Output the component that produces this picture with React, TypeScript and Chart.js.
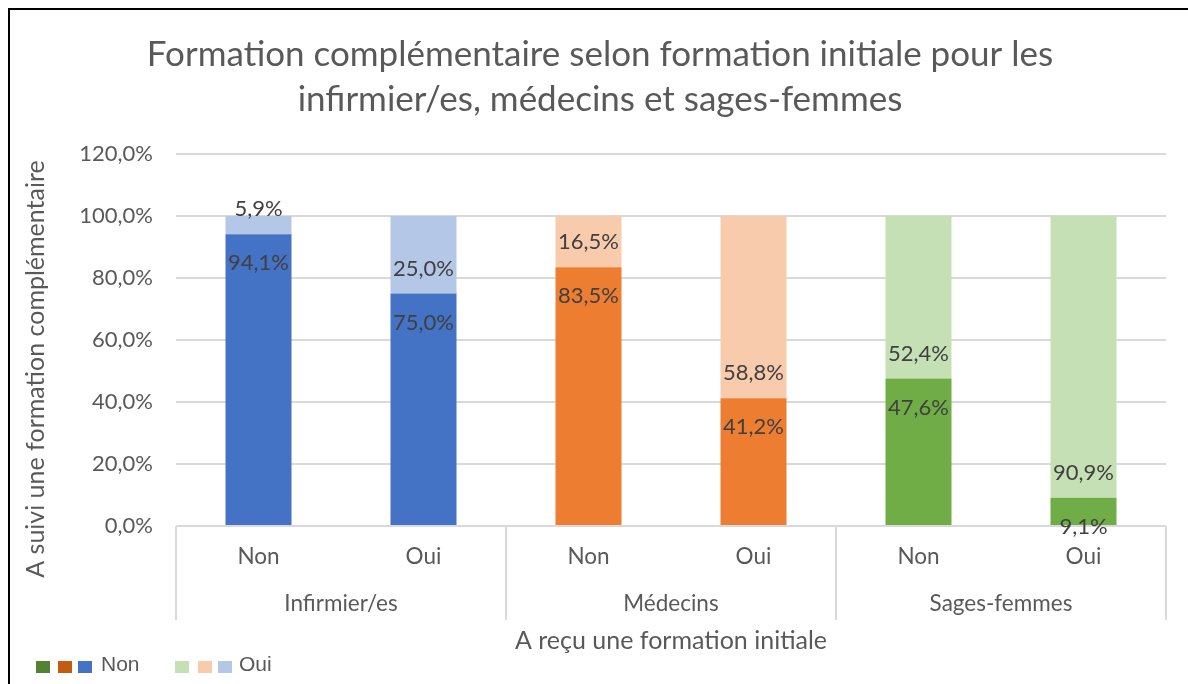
import { useEffect, useRef } from "react";
import { Chart, registerables } from "chart.js";

Chart.register(...registerables);

const categories = ["Non", "Oui", "Non", "Oui", "Non", "Oui"];
const groups = ["Infirmier/es", "Médecins", "Sages-femmes"];
const nonValues = [94.1, 75.0, 83.5, 41.2, 47.6, 9.1];
const ouiValues = [5.9, 25.0, 16.5, 58.8, 52.4, 90.9];
const nonColors = ["#4472C4", "#4472C4", "#ED7D31", "#ED7D31", "#70AD47", "#70AD47"];
const ouiColors = ["#B4C7E7", "#B4C7E7", "#F8CBAD", "#F8CBAD", "#C5E0B4", "#C5E0B4"];
const legendLabels = ["Non", "Oui"];
const legendNonColors = ["#548235", "#C55A11", "#4472C4"];
const legendOuiColors = ["#C5E0B4", "#F8CBAD", "#B4C7E7"];
const titleLines = [
  "Formation complémentaire selon formation initiale pour les",
  "infirmier/es, médecins et sages-femmes",
];
const yTitle = "A suivi une formation complémentaire";
const xTitle = "A reçu une formation initiale";
const yMin = 0;
const yMax = 120;
const yStep = 20;

const FONT = "Lato, 'Open Sans', sans-serif";
const TEXT = "#595959";
const LABEL = "#404040";

const fmt = (v: number) => v.toFixed(1).replace(".", ",") + "%";

const decorPlugin = {
  id: "decor",
  beforeDraw(chart: any) {
    const ctx = chart.ctx;
    ctx.save();
    ctx.fillStyle = "#ffffff";
    ctx.fillRect(0, 0, chart.width, chart.height);
    ctx.restore();
  },
  afterDraw(chart: any) {
    const ctx = chart.ctx;
    const area = chart.chartArea;
    const xs = chart.scales.x;
    ctx.save();
    // frame
    ctx.fillStyle = "#000000";
    ctx.fillRect(8, 8, chart.width - 8, 2);
    ctx.fillRect(8, 8, 2, chart.height - 8);

    // title
    ctx.fillStyle = TEXT;
    ctx.textAlign = "center";
    ctx.textBaseline = "middle";
    ctx.font = `35px ${FONT}`;
    ctx.fillText(titleLines[0], 600, 55);
    ctx.fillText(titleLines[1], 600, 100);

    // group axis
    const n = categories.length;
    const bounds: number[] = [];
    for (let i = 0; i <= n; i += 2) {
      let x: number;
      if (i === 0) x = area.left;
      else if (i === n) x = area.right;
      else x = (xs.getPixelForValue(i - 1) + xs.getPixelForValue(i)) / 2;
      bounds.push(x);
    }
    ctx.strokeStyle = "#d9d9d9";
    ctx.lineWidth = 2;
    bounds.forEach((x) => {
      ctx.beginPath();
      ctx.moveTo(Math.round(x), area.bottom);
      ctx.lineTo(Math.round(x), 620);
      ctx.stroke();
    });
    ctx.font = `22.5px ${FONT}`;
    ctx.fillStyle = TEXT;
    groups.forEach((g, i) => {
      ctx.fillText(g, (bounds[i] + bounds[i + 1]) / 2, 604);
    });

    // axis titles
    ctx.font = `25px ${FONT}`;
    ctx.fillText(xTitle, (area.left + area.right) / 2, 641);
    ctx.save();
    ctx.translate(36, 369);
    ctx.rotate(-Math.PI / 2);
    ctx.fillText(yTitle, 0, 0);
    ctx.restore();

    // data labels
    ctx.font = `22px ${FONT}`;
    ctx.fillStyle = LABEL;
    chart.data.datasets.forEach((ds: any, di: number) => {
      const meta = chart.getDatasetMeta(di);
      meta.data.forEach((bar: any, i: number) => {
        const top = Math.min(bar.y, bar.base);
        const bottom = Math.max(bar.y, bar.base);
        const y = di === 0 ? top + 29 : bottom - 25;
        ctx.fillText(fmt(ds.data[i]), bar.x, y);
      });
    });

    // legend
    ctx.font = `21px 'Liberation Sans', Arial, sans-serif`;
    ctx.textAlign = "left";
    const sqW = 14;
    const sqH = 12;
    const ly = 667;
    const nonX = [36, 58, 78];
    legendNonColors.forEach((c, i) => {
      ctx.fillStyle = c;
      ctx.fillRect(nonX[i], ly - sqH / 2, sqW, sqH);
    });
    ctx.fillStyle = TEXT;
    ctx.fillText(legendLabels[0], 101, ly - 2);
    const ouiX = [175, 198, 218];
    legendOuiColors.forEach((c, i) => {
      ctx.fillStyle = c;
      ctx.fillRect(ouiX[i], ly - sqH / 2, sqW, sqH);
    });
    ctx.fillStyle = TEXT;
    ctx.fillText(legendLabels[1], 239, ly - 2);
    ctx.restore();
  },
};

export default function App() {
  const ref = useRef<HTMLCanvasElement | null>(null);
  useEffect(() => {
    if (!ref.current) return;
    const chart = new Chart(ref.current, {
      type: "bar",
      data: {
        labels: categories,
        datasets: [
          {
            label: legendLabels[0],
            data: nonValues,
            backgroundColor: nonColors,
            categoryPercentage: 1,
            barPercentage: 0.4,
          },
          {
            label: legendLabels[1],
            data: ouiValues,
            backgroundColor: ouiColors,
            categoryPercentage: 1,
            barPercentage: 0.4,
          },
        ],
      },
      options: {
        animation: false,
        responsive: false,
        layout: { padding: { left: 0, right: 22, top: 154, bottom: 0 } },
        plugins: {
          legend: { display: false },
          tooltip: { enabled: false },
          title: { display: false },
        },
        scales: {
          x: {
            stacked: true,
            grid: { display: false, drawTicks: false },
            border: { display: false },
            ticks: {
              color: TEXT,
              font: { family: FONT, size: 22.5 },
              padding: 17,
              maxRotation: 0,
              autoSkip: false,
            },
            afterFit: (s: any) => {
              s.height = 158;
            },
          },
          y: {
            stacked: true,
            min: yMin,
            max: yMax,
            grid: { color: "#d9d9d9", lineWidth: 2, drawTicks: false },
            border: { display: false },
            ticks: {
              stepSize: yStep,
              color: TEXT,
              font: { family: FONT, size: 22 },
              padding: 23,
              callback: (v: any) => fmt(Number(v)),
            },
            afterFit: (s: any) => {
              s.width = 176;
            },
          },
        },
      },
      plugins: [decorPlugin],
    });
    return () => chart.destroy();
  }, []);
  return (
    <div style={{ position: "fixed", left: 0, top: 0, width: 1188, height: 684 }}>
      <canvas ref={ref} width={1188} height={684} style={{ width: 1188, height: 684 }} />
    </div>
  );
}
